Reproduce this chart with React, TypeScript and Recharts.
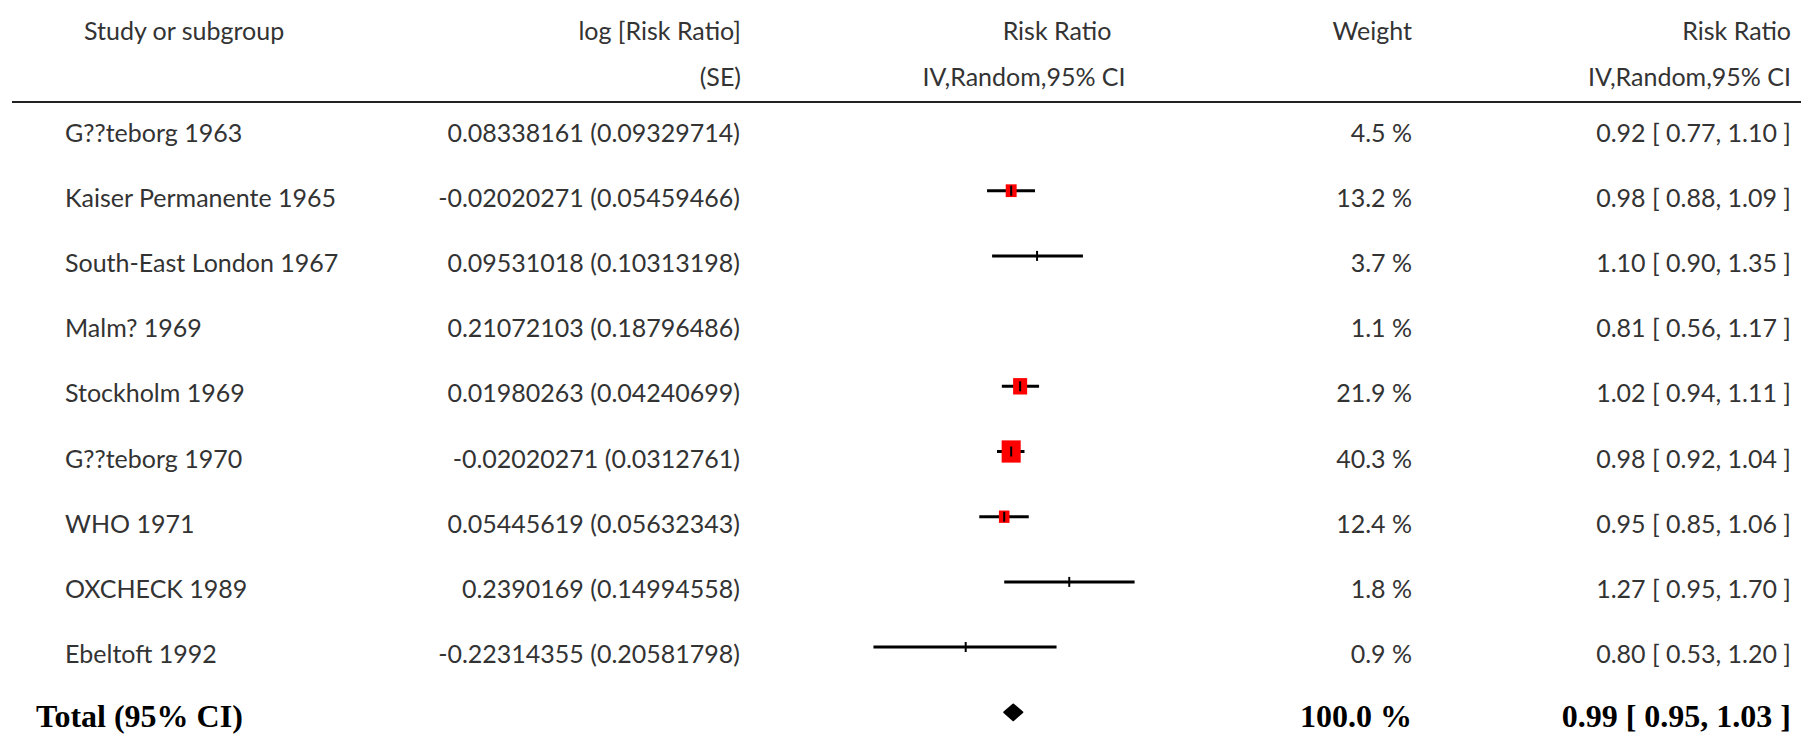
import { ComposedChart, XAxis, YAxis, Scatter, ErrorBar, ReferenceArea } from "recharts"

// table rows of the forest plot
const studies = [
  "G??teborg 1963",
  "Kaiser Permanente 1965",
  "South-East London 1967",
  "Malm? 1969",
  "Stockholm 1969",
  "G??teborg 1970",
  "WHO 1971",
  "OXCHECK 1989",
  "Ebeltoft 1992",
]
const logRR = [0.08338161, -0.02020271, 0.09531018, 0.21072103, 0.01980263, -0.02020271, 0.05445619, 0.2390169, -0.22314355]
const seLog = [0.09329714, 0.05459466, 0.10313198, 0.18796486, 0.04240699, 0.0312761, 0.05632343, 0.14994558, 0.20581798]
const weights = [4.5, 13.2, 3.7, 1.1, 21.9, 40.3, 12.4, 1.8, 0.9]
const rr = [0.92, 0.98, 1.1, 0.81, 1.02, 0.98, 0.95, 1.27, 0.8]
const rrLow = [0.77, 0.88, 0.9, 0.56, 0.94, 0.92, 0.85, 0.95, 0.53]
const rrHigh = [1.1, 1.09, 1.35, 1.17, 1.11, 1.04, 1.06, 1.7, 1.2]
// the reference leaves these two rows without a plotted estimate
const plotted = [false, true, true, false, true, true, true, true, true]

const totalRR = 0.99
const totalLow = 0.95
const totalHigh = 1.03
const totalWeight = 100

const SANS = "Lato, 'Open Sans', sans-serif"
const SERIF = "'Liberation Serif', 'DejaVu Serif', 'Times New Roman', serif"
const TEXT = "#333"
const TOTAL_ROW = studies.length

const rows = studies.map((name, i) => ({
  name,
  row: i,
  rr: rr[i],
  weight: weights[i],
  ci: [rr[i] - rrLow[i], rrHigh[i] - rr[i]],
}))
const estimateRows = rows.filter((r, i) => plotted[i])
const boxRows = estimateRows.filter((r) => r.weight >= 5)

// every table column is drawn from the row axis tick, so rows line up with the plot
function RowTick({ y, payload }: any) {
  const i = payload.value
  if (i === TOTAL_ROW) {
    return (
      <g fontFamily={SERIF} fontWeight="bold" fontSize={32} fill="#000" style={{ whiteSpace: "pre" }}>
        <text x={36} y={y + 15}>Total (95% CI)</text>
        <text x={1412} y={y + 15} textAnchor="end">{`${totalWeight.toFixed(1)} %`}</text>
        <text x={1791} y={y + 15} textAnchor="end">
          {`${totalRR.toFixed(2)}  [ ${totalLow.toFixed(2)}, ${totalHigh.toFixed(2)} ]`}
        </text>
      </g>
    )
  }
  return (
    <g fontFamily={SANS} fontSize={25} fill={TEXT}>
      <text x={65} y={y + 16}>{studies[i]}</text>
      <text x={740} y={y + 16} textAnchor="end">{`${logRR[i]} (${seLog[i]})`}</text>
      <text x={1412} y={y + 16} textAnchor="end">{`${weights[i].toFixed(1)} %`}</text>
      <text x={1791} y={y + 16} textAnchor="end">
        {`${rr[i].toFixed(2)} [ ${rrLow[i].toFixed(2)}, ${rrHigh[i].toFixed(2)} ]`}
      </text>
    </g>
  )
}

function WeightBox(props: any) {
  const { cx, cy, payload } = props
  const w = 3 * Math.sqrt(payload.weight)
  const h = 3.5 * Math.sqrt(payload.weight)
  return <rect x={cx - w / 2} y={cy - h / 2} width={w} height={h} fill="#ff0000" />
}

function EstimateTick(props: any) {
  const { cx, cy } = props
  return <line x1={cx} x2={cx} y1={cy - 5} y2={cy + 5} stroke="#000" strokeWidth={2} />
}

function Diamond(props: any) {
  const { x, y, width, height } = props
  const pts = [
    [x, y + height / 2],
    [x + width / 2, y],
    [x + width, y + height / 2],
    [x + width / 2, y + height],
  ]
  return <polygon points={pts.map((p) => p.join(",")).join(" ")} fill="#000" stroke="#000" strokeWidth={2} strokeLinejoin="round" />
}

export default function App() {
  const rowTicks = [...rows.map((r) => r.row), TOTAL_ROW]
  return (
    <div style={{ position: "absolute", left: 0, top: 0, width: 1801, height: 734, background: "#fff" }}>
      <ComposedChart width={1801} height={734} margin={{ top: 125.5, right: 630, bottom: 21.7, left: 0 }}>
        <XAxis xAxisId="rr" dataKey="rr" type="number" scale="log" domain={[0.5, 2]} allowDataOverflow hide />
        <YAxis
          yAxisId="rows"
          dataKey="row"
          type="number"
          domain={[0, TOTAL_ROW]}
          reversed
          ticks={rowTicks}
          interval={0}
          width={860.4}
          axisLine={false}
          tickLine={false}
          tick={RowTick}
        />
        <Scatter data={boxRows} xAxisId="rr" yAxisId="rows" shape={WeightBox} isAnimationActive={false} />
        <Scatter data={estimateRows} xAxisId="rr" yAxisId="rows" shape={EstimateTick} isAnimationActive={false}>
          <ErrorBar dataKey="ci" direction="x" width={0} stroke="#000" strokeWidth={3} isAnimationActive={false} />
        </Scatter>
        <ReferenceArea
          xAxisId="rr"
          yAxisId="rows"
          x1={totalLow}
          x2={totalHigh}
          y1={TOTAL_ROW - 0.12}
          y2={TOTAL_ROW + 0.12}
          ifOverflow="visible"
          shape={Diamond}
        />
        <g fontFamily={SANS} fontSize={25} fill={TEXT}>
          <text x={84} y={40}>Study or subgroup</text>
          <text x={741} y={40} textAnchor="end">log [Risk Ratio]</text>
          <text x={741} y={86} textAnchor="end">(SE)</text>
          <text x={1057} y={40} textAnchor="middle">Risk Ratio</text>
          <text x={1024} y={86} textAnchor="middle">IV,Random,95% CI</text>
          <text x={1412} y={40} textAnchor="end">Weight</text>
          <text x={1791} y={40} textAnchor="end">Risk Ratio</text>
          <text x={1791} y={86} textAnchor="end">IV,Random,95% CI</text>
        </g>
        <line x1={12} x2={1801} y1={102} y2={102} stroke="#222" strokeWidth={2} />
      </ComposedChart>
    </div>
  )
}
